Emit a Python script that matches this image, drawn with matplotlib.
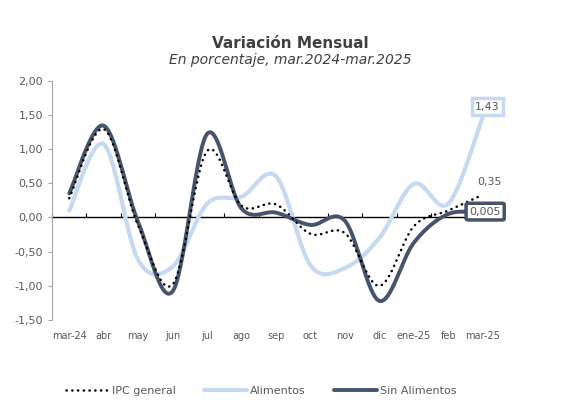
import matplotlib
matplotlib.use("Agg")
import matplotlib.pyplot as plt
import numpy as np
from matplotlib.ticker import FuncFormatter

plt.rcParams["font.family"] = ["DejaVu Sans"]

months = ["mar-24", "abr", "may", "jun", "jul", "ago", "sep",
          "oct", "nov", "dic", "ene-25", "feb", "mar-25"]
ipc_general = [0.28, 1.29, -0.12, -0.98, 0.97, 0.17, 0.19,
               -0.24, -0.23, -1.00, -0.13, 0.10, 0.33]
alimentos = [0.10, 1.07, -0.62, -0.72, 0.20, 0.30, 0.60,
             -0.70, -0.74, -0.30, 0.49, 0.20, 1.47]
sin_alimentos = [0.35, 1.34, -0.07, -1.08, 1.22, 0.13, 0.07,
                 -0.11, -0.05, -1.22, -0.37, 0.05, 0.06]
end_labels = {"alimentos": "1,43", "ipc": "0,35", "sin": "0,005"}

dark = "#44546A"
light = "#C5D9F1"
grey_txt = "#595959"


def smooth(y, n=30):
    # excel style smoothed line (cubic bezier, catmull-rom tangents)
    y = np.asarray(y, dtype=float)
    x = np.arange(len(y), dtype=float)
    px = np.concatenate([[x[0]], x, [x[-1]]])
    py = np.concatenate([[y[0]], y, [y[-1]]])
    xs, ys = [], []
    t = np.linspace(0, 1, n)
    for i in range(len(y) - 1):
        p0 = np.array([px[i + 1], py[i + 1]])
        p3 = np.array([px[i + 2], py[i + 2]])
        p1 = p0 + (np.array([px[i + 2], py[i + 2]]) - np.array([px[i], py[i]])) / 6
        p2 = p3 - (np.array([px[i + 3], py[i + 3]]) - np.array([px[i + 1], py[i + 1]])) / 6
        b = ((1 - t) ** 3)[:, None] * p0 + (3 * (1 - t) ** 2 * t)[:, None] * p1 \
            + (3 * (1 - t) * t ** 2)[:, None] * p2 + (t ** 3)[:, None] * p3
        xs.append(b[:, 0])
        ys.append(b[:, 1])
    return np.concatenate(xs), np.concatenate(ys)


fig = plt.figure(figsize=(5.78, 4.13), dpi=100)
ax = fig.add_axes([0.090, 0.225, 0.775, 0.580])

x1, y1 = smooth(alimentos)
ax.plot(x1, y1, color=light, lw=3.0, solid_capstyle="round", label="Alimentos", zorder=2)
x2, y2 = smooth(sin_alimentos)
ax.plot(x2, y2, color=dark, lw=2.8, solid_capstyle="round", label="Sin Alimentos", zorder=3)
x3, y3 = smooth(ipc_general)
ax.plot(x3, y3, color="black", lw=1.8, linestyle=(0, (0.1, 2.2)),
        dash_capstyle="round", label="IPC general", zorder=4)

ax.set_xlim(-0.5, 12.5)
ax.set_ylim(-1.5, 2.0)
ax.set_yticks(np.arange(-1.5, 2.01, 0.5))
ax.yaxis.set_major_formatter(FuncFormatter(lambda v, p: f"{v:.2f}".replace(".", ",")))
ax.set_xticks(range(len(months)))
ax.set_xticklabels(months)

for s in ["top", "right", "bottom"]:
    ax.spines[s].set_visible(False)
ax.spines["left"].set_color("#A6A6A6")
ax.tick_params(axis="y", colors="#A6A6A6", labelcolor=grey_txt, labelsize=8, length=3)
ax.tick_params(axis="x", length=0, labelcolor=grey_txt, labelsize=7, pad=8)

# zero line with category ticks
zero = ax.secondary_xaxis((0 + 1.5) / 3.5)
zero.set_xticks(np.arange(-0.5, 12.6, 1.0))
zero.tick_params(direction="in", length=3, width=0.8, colors="black", labelbottom=False)
zero.spines["bottom"].set_color("black")
zero.spines["bottom"].set_linewidth(1.0)

n = len(months) - 1
ax.annotate(end_labels["alimentos"], (n, alimentos[-1]), xytext=(n + 0.14, 1.62),
            ha="center", va="center", fontsize=8, color=grey_txt,
            bbox=dict(boxstyle="square,pad=0.3", fc="white", ec=light, lw=2.5), zorder=6)
ax.text(n + 0.2, 0.52, end_labels["ipc"], ha="center", va="center", fontsize=8, color=grey_txt)
ax.text(n + 0.07, 0.085, end_labels["sin"], ha="center", va="center", fontsize=8, color=grey_txt,
        bbox=dict(boxstyle="round,pad=0.3,rounding_size=0.15", fc="white", ec=dark, lw=2.5),
        zorder=6)

fig.text(0.502, 0.895, "Variación Mensual", ha="center", va="center",
         fontsize=11, fontweight="bold", color="#404040")
fig.text(0.502, 0.855, "En porcentaje, mar.2024-mar.2025", ha="center", va="center",
         fontsize=10, style="italic", color="#404040")

h, l = ax.get_legend_handles_labels()
order = [2, 0, 1]
fig.legend([h[i] for i in order], [l[i] for i in order], loc="center",
           bbox_to_anchor=(0.452, 0.053), ncol=3, frameon=False, fontsize=8,
           labelcolor=grey_txt, handlelength=3.8, handletextpad=0.3, columnspacing=2.6)

fig.savefig("out.png", dpi=100)
